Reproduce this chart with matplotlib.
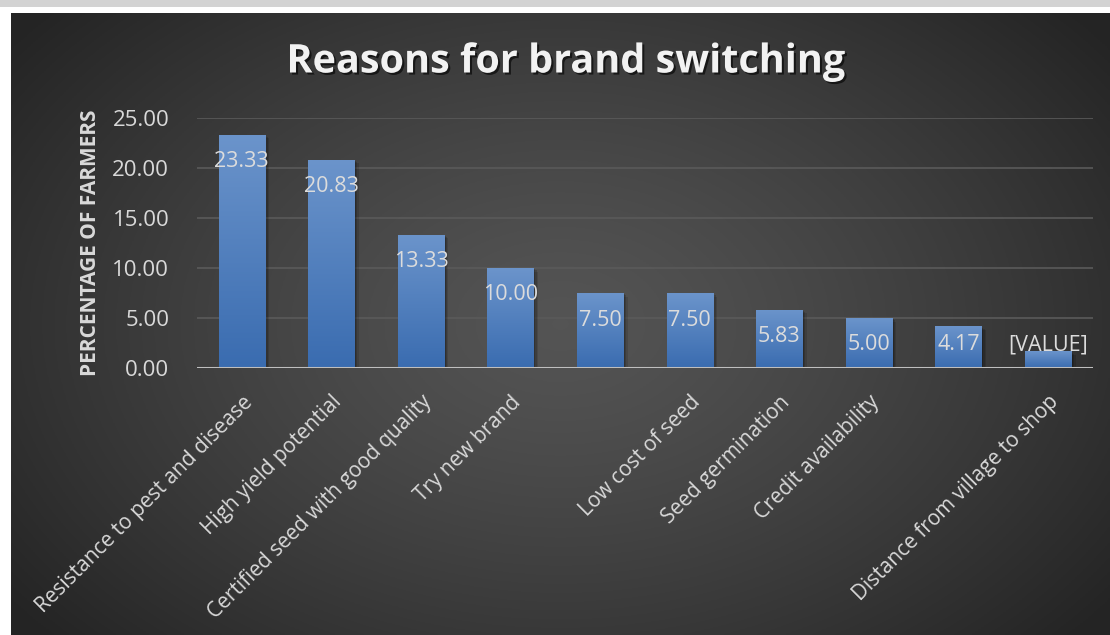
import numpy as np
import matplotlib
matplotlib.use("Agg")
import matplotlib.pyplot as plt
import matplotlib.patheffects as pe
from matplotlib.patches import Rectangle

reasons = [
    "Resistance to pest and disease",
    "High yield potential",
    "Certified seed with good quality",
    "Try new brand",
    "",
    "Low cost of seed",
    "Seed germination",
    "Credit availability",
    "",
    "Distance from village to shop",
]
percent = [23.33, 20.83, 13.33, 10.00, 7.50, 7.50, 5.83, 5.00, 4.17, 1.67]
value_labels = ["23.33", "20.83", "13.33", "10.00", "7.50", "7.50", "5.83", "5.00", "4.17", "[VALUE]"]
yticks = [0, 5, 10, 15, 20, 25]

W, H = 1110, 635
plt.rcParams["font.family"] = ["Open Sans", "DejaVu Sans"]
fig = plt.figure(figsize=(W / 100, H / 100), dpi=100)
fig.patch.set_facecolor("white")

# grey page strip at the very top
fig.patches.append(Rectangle((0, 1 - 7 / H), 1, 7 / H, transform=fig.transFigure,
                             facecolor="#d3d3d3", edgecolor="none"))

# dark radial background of the chart area
bg = fig.add_axes([11 / W, 0, 1 - 11 / W, (H - 13) / H])
gx, gy = np.meshgrid(np.linspace(0, 1, 400), np.linspace(0, 1, 300))
r = np.sqrt(((gx - 0.5) / 0.62) ** 2 + ((gy - 0.5) / 0.75) ** 2)
t = np.clip(r, 0, 1) ** 1.3
shade = 0.33 - (0.33 - 0.145) * t
bg.imshow(np.dstack([shade, shade, shade]), extent=[0, 1, 0, 1], aspect="auto", origin="lower")
bg.axis("off")

ax = fig.add_axes([197 / W, 1 - 368 / H, (1093 - 197) / W, 250 / H])
ax.set_facecolor("none")
x = np.arange(len(percent))
bw = 0.52

# soft shadows behind bars
for xi, v in zip(x, percent):
    for k, a in [(0.045, 0.12), (0.03, 0.15), (0.015, 0.18)]:
        ax.add_patch(Rectangle((xi - bw / 2 + k, -k * 8), bw, v, facecolor="black",
                               alpha=a, edgecolor="none", zorder=2))

bars = ax.bar(x, percent, width=bw, color="#4a7cc0", edgecolor="none", zorder=3)
grad = np.linspace(0, 1, 100).reshape(-1, 1)
top_c = np.array([0x6b, 0x94, 0xcb]) / 255
bot_c = np.array([0x3a, 0x6c, 0xb0]) / 255
img = bot_c + (top_c - bot_c) * grad[:, :, None]
for b in bars:
    im = ax.imshow(img, extent=[b.get_x(), b.get_x() + bw, 0, b.get_height()],
                   aspect="auto", origin="lower", zorder=3)
    im.set_clip_path(b)

for xi, v, lab in zip(x, percent, value_labels):
    ax.text(xi, max(v - 2.7, 2.3), lab, ha="center", va="center",
            fontsize=15.5, color="#dcdcdc", zorder=5)

ax.set_xlim(-0.5, len(percent) - 0.5)
ax.set_ylim(0, 25)
ax.set_yticks(yticks)
ax.set_yticklabels([f"{v:.2f}" for v in yticks], fontsize=16, color="#d9d9d9")
ax.yaxis.grid(True, color="#5a5a5a", linewidth=1.2, zorder=1)
ax.set_axisbelow(True)
ax.axhline(0, color="#bfbfbf", linewidth=2.2, zorder=4)
for s in ax.spines.values():
    s.set_visible(False)
ax.tick_params(axis="y", length=0, pad=20)
ax.tick_params(axis="x", length=0, pad=17)
ax.set_xticks(x)
ax.set_xticklabels(reasons, rotation=45, ha="right", rotation_mode="anchor",
                   fontsize=15, color="#d9d9d9")
ax.set_ylabel("PERCENTAGE OF FARMERS", fontsize=15, fontweight="bold",
              color="#d9d9d9", labelpad=8)

fig.text(566 / W, 1 - 62 / H, "Reasons for brand switching", ha="center", va="center",
         fontsize=28.5, fontweight="bold", color="#f2f2f2",
         path_effects=[pe.SimplePatchShadow(offset=(1.5, -1.5), shadow_rgbFace="black", alpha=0.6),
                       pe.Normal()])

fig.savefig("out.png", dpi=100, facecolor=fig.get_facecolor())
